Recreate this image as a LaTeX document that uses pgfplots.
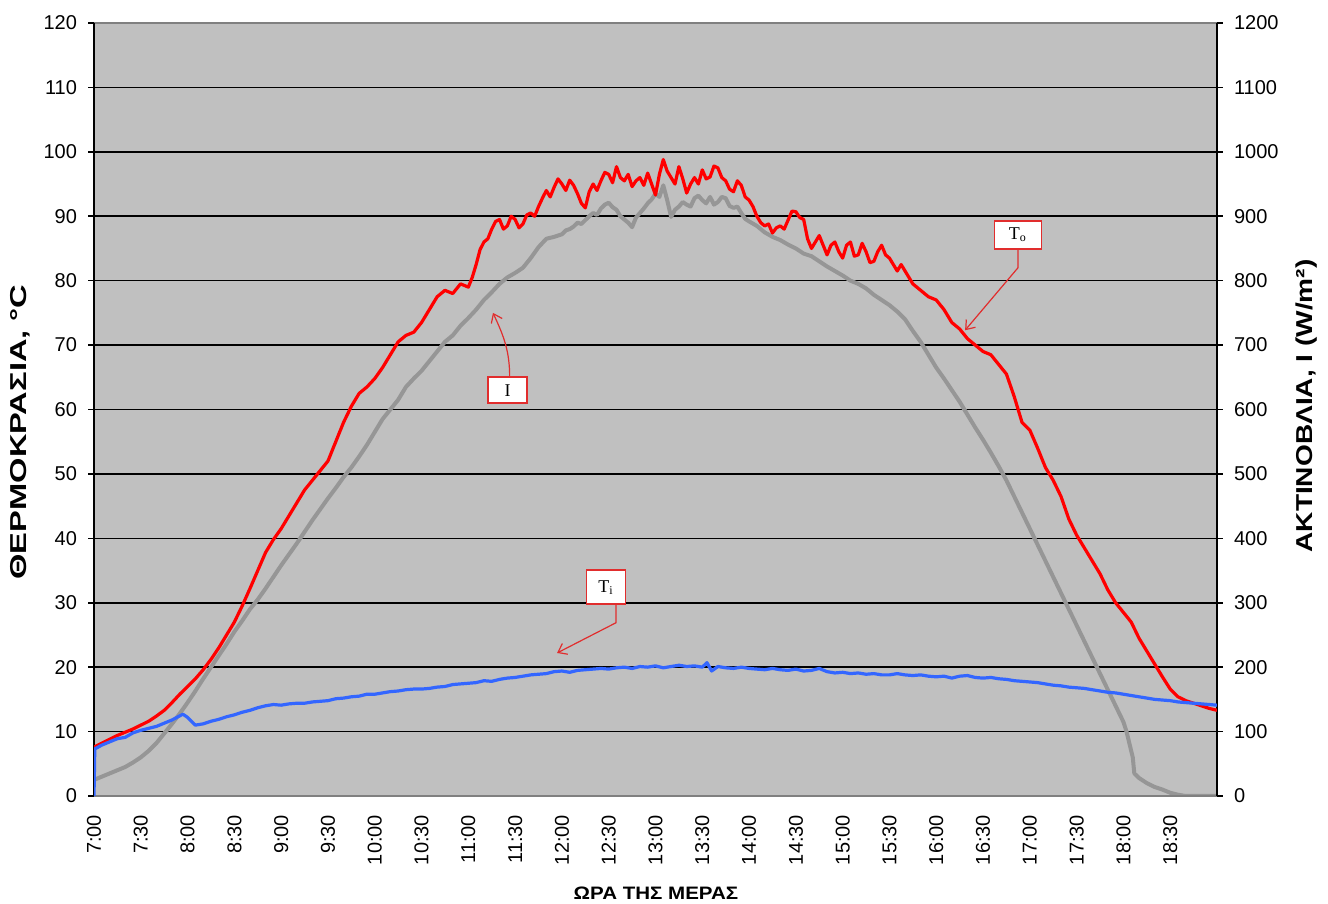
\documentclass[border=0pt]{standalone}
\usepackage{fontspec}
\setmainfont{Liberation Sans}
\newfontfamily\tnr{Liberation Serif}
\usepackage{graphicx}
\usepackage{pgfplots}
\pgfplotsset{compat=1.18}
\usetikzlibrary{arrows.meta}
\definecolor{bgGray}{RGB}{192,192,192}
\definecolor{serGray}{RGB}{150,150,150}
\definecolor{serBlue}{RGB}{51,102,255}
\definecolor{serRed}{RGB}{255,0,0}
\definecolor{frameGray}{RGB}{128,128,128}
\definecolor{annRed}{RGB}{225,45,45}
\pgfplotsset{common/.style={
  scale only axis, width=561.5pt, height=386.5pt,
  at={(47pt,54pt)}, anchor=south west,
  xmin=0, xmax=720,
  tick align=outside, major tick length=3pt,
  /pgf/number format/1000 sep={},
  /pgf/number format/assume math mode=true,
  yticklabel style={font=\fontsize{10}{12}\selectfont},
}}
\begin{document}
\begin{tikzpicture}
\useasboundingbox (0,0) rectangle (664pt,452pt);
% secondary axis: irradiance
\begin{axis}[common,
  ymin=0, ymax=1200, ytick={0,100,...,1200},
  axis y line*=right, axis x line=none,
  ymajorgrids, grid style={black, line width=0.8pt},
  axis background/.style={fill=bgGray},
  y axis line style={black, line width=0.8pt},
  ytick style={black, line width=0.8pt},
  yticklabel style={xshift=2pt},
]
\addplot[serGray, line width=2pt, line join=round] table {
0 25
5 30
10 35
15 40
20 45
25 52
30 60
35 70
40 82
45 97
50 112
55 128
60 145
65 163
70 182
75 200
80 218
85 236
90 255
95 272
100 290
105 305
110 322
115 340
120 358
125 375
130 392
135 410
140 428
145 445
150 462
155 478
160 495
165 510
170 527
175 545
180 565
185 585
190 600
195 615
200 635
205 648
210 660
215 675
220 690
225 705
230 715
235 730
240 742
245 755
250 770
255 782
260 795
265 805
270 812
275 820
280 835
285 852
290 865
295 868
300 872
302.5 878
305 880
307.5 884
310 890
312.5 888
315 894
317.5 900
320 905
322.5 902
325 912
327.5 918
330 921
332.5 914
335 910
337.5 900
340 895
342.5 890
345 883
347.5 898
350 905
352.5 912
355 920
357.5 926
360 935
362.5 930
365 948
367.5 925
370 899
372.5 910
375 915
377.5 922
380 918
382.5 915
385 928
387.5 932
390 925
392.5 920
395 930
397.5 918
400 922
402.5 930
405 928
407.5 916
410 913
412.5 915
415 905
417.5 896
420 892
425 885
430 875
435 868
440 863
445 856
450 850
455 842
460 838
465 830
470 822
475 815
480 808
485 800
490 795
495 788
500 778
505 770
510 762
515 752
520 740
525 722
530 705
535 685
540 665
545 648
550 630
555 612
560 592
565 572
570 553
575 533
580 512
585 490
590 465
595 440
600 415
605 390
610 365
615 340
620 315
625 290
630 265
635 240
640 215
645 190
650 165
655 140
660 115
662 100
664 80
666 60
667 35
670 28
675 20
680 14
685 10
690 5
695 2
700 0
720 0
};
\end{axis}
% primary axis: temperatures
\begin{axis}[common,
  ymin=0, ymax=120, ytick={0,10,...,120}, ytick pos=left,
  xtick={0,30,...,690},
  xticklabels={7:00,7:30,8:00,8:30,9:00,9:30,10:00,10:30,11:00,11:30,12:00,12:30,13:00,13:30,14:00,14:30,15:00,15:30,16:00,16:30,17:00,17:30,18:00,18:30},
  xtick style={draw=none},
  xticklabel style={font=\fontsize{10}{12}\selectfont, yshift=-3pt, rotate=90, anchor=east},
  separate axis lines,
  x axis line style={frameGray, line width=0.8pt},
  y axis line style={black, line width=0.8pt},
  ytick style={black, line width=0.8pt},
  yticklabel style={xshift=-2pt},
]
\addplot[serRed, line width=1.6pt, line join=round] table {
0 7.6
5 8.2
10 8.8
15 9.4
20 9.9
25 10.4
30 11.0
35 11.6
40 12.4
45 13.3
50 14.5
55 15.8
60 17.0
65 18.2
70 19.6
75 21.2
80 23.0
85 25.0
90 27.0
95 29.5
100 32.2
105 35.0
110 37.8
115 39.8
120 41.5
125 43.5
130 45.5
135 47.5
140 49.0
145 50.5
150 52.0
155 55.0
160 58.0
165 60.5
170 62.5
175 63.5
180 64.8
185 66.5
190 68.5
195 70.5
200 71.5
205 72.0
210 73.5
215 75.5
220 77.5
225 78.5
230 78.0
235 79.5
240 79.0
242.5 80.5
245 82.5
247.5 84.8
250 86.0
252.5 86.5
255 88.0
257.5 89.2
260 89.5
262.5 88.0
265 88.5
267.5 90.0
270 89.5
272.5 88.2
275 88.8
277.5 90.2
280 90.5
282.5 90.0
285 91.5
287.5 92.8
290 94.0
292.5 93.0
295 94.5
297.5 95.8
300 95.0
302.5 94.0
305 95.6
307.5 94.8
310 93.5
312.5 92.0
315 91.3
317.5 93.8
320 95.0
322.5 94.0
325 95.5
327.5 96.8
330 96.5
332.5 95.2
335 97.7
337.5 96.0
340 95.5
342.5 96.5
345 94.6
347.5 95.5
350 96.0
352.5 94.8
355 96.7
357.5 95.0
360 93.3
362.5 96.5
365 98.8
367.5 97.0
370 96.0
372.5 95.0
375 97.7
377.5 95.8
380 93.6
382.5 95.0
385 96.0
387.5 95.0
390 97.2
392.5 95.8
395 96.1
397.5 97.8
400 97.5
402.5 96.0
405 95.5
407.5 94.2
410 93.8
412.5 95.5
415 94.8
417.5 93.0
420 92.5
422.5 91.5
425 90.0
427.5 89.0
430 88.5
432.5 88.8
435 87.4
437.5 88.2
440 88.5
442.5 88.0
445 89.4
447.5 90.8
450 90.7
452.5 89.8
455 89.5
457.5 86.5
460 85.0
462.5 86.0
465 87.0
467.5 85.5
470 84.0
472.5 85.5
475 86.0
477.5 84.5
480 83.5
482.5 85.5
485 86.0
487.5 83.8
490 84.0
492.5 85.8
495 84.5
497.5 82.8
500 83.0
502.5 84.5
505 85.5
507.5 84.0
510 83.5
512.5 82.5
515 81.5
517.5 82.5
520 81.5
525 79.5
530 78.5
535 77.5
540 77.0
545 75.5
550 73.5
555 72.5
560 71.0
565 70.0
570 69.0
575 68.5
580 67.0
585 65.5
590 62.0
595 58.0
600 56.8
605 54.0
610 51.0
615 49.0
620 46.5
625 43.0
630 40.5
635 38.5
640 36.5
645 34.5
650 32.0
655 30.0
660 28.5
665 27.0
670 24.5
675 22.5
680 20.5
685 18.5
690 16.6
695 15.4
700 14.8
705 14.4
710 14.0
715 13.6
720 13.3
};
\addplot[serBlue, line width=1.6pt, line join=round] table {
0 0
0.5 7.3
5 7.9
10 8.4
15 8.9
20 9.1
25 9.8
30 10.2
35 10.5
40 10.8
45 11.3
50 11.8
57 12.7
60 12.2
65 11.0
70 11.2
75 11.6
80 11.9
85 12.3
90 12.6
95 13.0
100 13.3
105 13.7
110 14.0
115 14.2
120 14.1
125 14.3
130 14.4
135 14.4
140 14.6
145 14.7
150 14.8
155 15.1
160 15.2
165 15.4
170 15.5
175 15.8
180 15.8
185 16.0
190 16.2
195 16.3
200 16.5
205 16.6
210 16.6
215 16.7
220 16.9
225 17.0
230 17.3
235 17.4
240 17.5
245 17.6
250 17.9
255 17.8
260 18.1
265 18.3
270 18.4
275 18.6
280 18.8
285 18.9
290 19.0
295 19.3
300 19.4
305 19.2
310 19.5
315 19.6
320 19.7
325 19.8
330 19.7
335 19.9
340 20.0
345 19.8
350 20.1
355 20.0
360 20.2
365 19.9
370 20.1
375 20.3
380 20.1
385 20.2
390 20.0
393 20.7
396 19.4
400 20.1
405 19.9
410 19.8
415 20.0
420 19.8
425 19.7
430 19.6
435 19.8
440 19.6
445 19.5
450 19.7
455 19.4
460 19.5
465 19.8
470 19.3
475 19.1
480 19.2
485 19.0
490 19.1
495 18.9
500 19.0
505 18.8
510 18.8
515 19.0
520 18.8
525 18.7
530 18.8
535 18.6
540 18.5
545 18.6
550 18.3
555 18.6
560 18.7
565 18.4
570 18.3
575 18.4
580 18.2
585 18.1
590 17.9
595 17.8
600 17.7
605 17.6
610 17.4
615 17.2
620 17.1
625 16.9
630 16.8
635 16.7
640 16.5
645 16.3
650 16.1
655 16.0
660 15.8
665 15.6
670 15.4
675 15.2
680 15.0
685 14.9
690 14.8
695 14.6
700 14.5
705 14.4
710 14.3
715 14.2
720 14.1
};
% annotations
\draw[annRed, line width=0.6pt, -{Straight Barb[length=4pt,width=6pt]}]
  (axis cs:266.5,65.0) to[out=90,in=-65] (axis cs:255.8,75.0);
\node[draw=annRed, fill=white, line width=0.8pt, minimum width=19.5pt, minimum height=13pt, inner sep=0pt,
  font=\tnr\fontsize{9}{10}\selectfont] at (axis cs:265.2,63.0) {I};
\draw[annRed, line width=0.6pt, -{Straight Barb[length=4pt,width=6pt]}]
  (axis cs:592.4,84.9) -- (axis cs:592.4,82.0) -- (axis cs:558.5,72.3);
\node[draw=annRed, fill=white, line width=0.8pt, minimum width=23.5pt, minimum height=14pt, inner sep=0pt,
  font=\tnr\fontsize{9}{10}\selectfont] at (axis cs:592.4,87.1) {T\textsubscript{o}};
\draw[annRed, line width=0.6pt, -{Straight Barb[length=4pt,width=6pt]}]
  (axis cs:334.7,29.8) -- (axis cs:334.7,26.9) -- (axis cs:296.9,22.2);
\node[draw=annRed, fill=white, line width=0.8pt, minimum width=19.5pt, minimum height=17pt, inner sep=0pt,
  font=\tnr\fontsize{9}{10}\selectfont] at (axis cs:328.3,32.4) {T\textsubscript{i}};
\end{axis}
% axis titles
\node[rotate=90, font=\bfseries\fontsize{11.5}{13}\selectfont, inner sep=0pt] at (10pt,236pt) {\scalebox{1.42}[1]{ΘΕΡΜΟΚΡΑΣΙΑ, °C}};
\node[rotate=90, font=\bfseries\fontsize{11.5}{13}\selectfont, inner sep=0pt] at (653.5pt,249pt) {\scalebox{1.22}[1]{ΑΚΤΙΝΟΒΛΙΑ, Ι (W/m²)}};
\node[font=\bfseries\fontsize{9}{11}\selectfont, inner sep=0pt] at (328pt,5.5pt) {\scalebox{1.14}[1]{ΩΡΑ ΤΗΣ ΜΕΡΑΣ}};
\end{tikzpicture}
\end{document}
